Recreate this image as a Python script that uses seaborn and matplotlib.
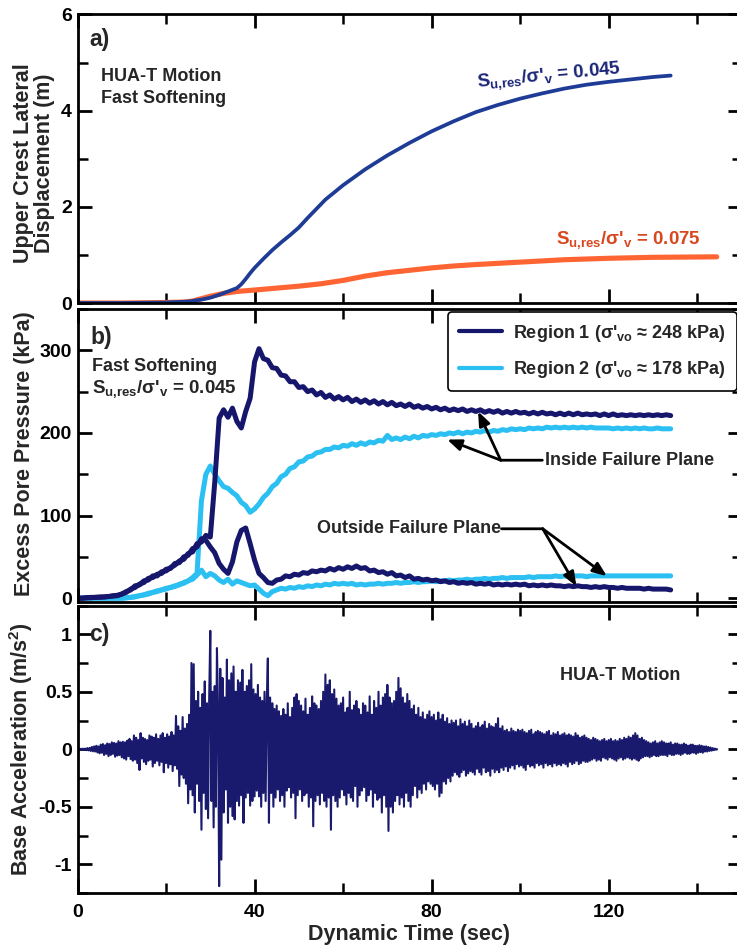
import numpy as np
import matplotlib
matplotlib.use("Agg")
import matplotlib.pyplot as plt
import seaborn as sns
from matplotlib.ticker import MultipleLocator, FuncFormatter
from matplotlib.lines import Line2D

# ---------------------------------------------------------------- data
# (a) upper crest lateral displacement (m)
disp_time_045 = [0, 10, 20, 25, 28, 30, 32, 34, 36, 37, 38, 39, 40, 42, 44, 46, 48, 50,
                 52, 54, 56, 60, 65, 70, 75, 80, 85, 90, 95, 100, 105, 110, 115, 120,
                 125, 130, 134]
disp_045 = [0, 0, 0.01, 0.03, 0.07, 0.11, 0.17, 0.24, 0.31, 0.39, 0.5, 0.62, 0.73, 0.92,
            1.1, 1.26, 1.41, 1.57, 1.77, 1.96, 2.15, 2.45, 2.78, 3.07, 3.33, 3.57, 3.78,
            3.97, 4.12, 4.25, 4.36, 4.46, 4.54, 4.6, 4.65, 4.7, 4.73]

disp_time_075 = [0, 10, 20, 24, 26, 28, 30, 33, 36, 40, 45, 50, 55, 60, 65, 70, 75, 80,
                 85, 90, 100, 110, 120, 130, 144.4]
disp_075 = [0, 0, 0.01, 0.02, 0.04, 0.09, 0.14, 0.2, 0.24, 0.27, 0.31, 0.35, 0.4, 0.47,
            0.56, 0.63, 0.68, 0.73, 0.77, 0.8, 0.85, 0.9, 0.93, 0.95, 0.96]

# (b) excess pore pressure (kPa), one sample per second from 0 to 134 s
region1_inside = [
    0, 0, 0.5, 0.5, 1, 1, 1.5, 2, 2.5, 3,
    5, 8, 10, 15, 16, 21, 22, 27, 27, 32,
    33, 37, 40, 45, 47, 54, 56, 66, 68, 76,
    74, 140, 218, 228, 219, 230, 214, 206, 226, 242,
    286, 302, 290, 288, 279, 278, 270, 269, 262, 262,
    255, 256, 250, 252, 246, 249, 243, 246, 241, 244,
    240, 243, 238, 241, 237, 240, 236, 239, 235, 238,
    234, 237, 233, 235, 232, 235, 231, 233, 230, 232,
    229, 231, 228, 230, 227, 229, 227, 229, 226, 228,
    226, 228, 225, 227, 225, 227, 224, 226, 224, 226,
    224, 225, 223, 225, 223, 225, 223, 224, 222, 224,
    222, 224, 222, 224, 222, 223, 222, 223, 221, 223,
    221, 223, 221, 222, 221, 222, 221, 222, 221, 222,
    221, 222, 221, 222, 221]
region1_outside = [
    0, 0, 0.5, 1, 1, 1.5, 1.5, 2, 3, 3.5,
    5, 7, 11, 13, 17, 19, 24, 25, 29, 30,
    35, 36, 42, 43, 50, 52, 60, 62, 72, 70,
    62, 55, 42, 35, 30, 44, 68, 82, 85, 66,
    46, 30, 25, 19, 18, 22, 23, 27, 26, 29,
    28, 31, 30, 33, 32, 34, 33, 36, 34, 37,
    35, 38, 36, 39, 36, 37, 33, 34, 31, 32,
    29, 31, 27, 28, 25, 27, 23, 24, 22, 23,
    21, 22, 20, 21, 19, 20, 18, 19, 18, 19,
    17, 18, 17, 18, 16, 17, 16, 17, 16, 17,
    16, 17, 15, 16, 15, 16, 15, 16, 15, 15,
    14, 15, 14, 15, 14, 14, 13, 14, 13, 14,
    13, 13, 12, 13, 12, 12, 12, 12, 11, 12,
    11, 11, 11, 11, 10]
region2_inside = [
    0, 0, 0, 0, 0, 0, 0, 0, 0, 0,
    0, 0.5, 1, 2, 3, 4, 6, 7, 9, 10,
    12, 13, 15, 16, 19, 21, 25, 30, 118, 150,
    160, 150, 142, 135, 133, 128, 124, 116, 112, 104,
    108, 114, 122, 127, 135, 139, 147, 150, 157, 159,
    165, 166, 171, 172, 176, 177, 180, 180, 183, 182,
    185, 184, 187, 185, 188, 186, 189, 188, 191, 190,
    197, 192, 194, 192, 195, 193, 196, 194, 197, 196,
    198, 197, 199, 198, 200, 199, 201, 199, 201, 200,
    202, 201, 203, 201, 203, 202, 204, 203, 205, 204,
    205, 204, 206, 205, 206, 205, 207, 206, 207, 206,
    207, 206, 207, 206, 207, 206, 207, 206, 206, 206,
    206, 205, 206, 205, 206, 205, 206, 205, 206, 205,
    205, 206, 205, 205, 205]
region2_outside = [
    0, 0, 0, 0, 0, 0, 0, 0, 0, 0,
    0, 0.5, 1, 1.5, 3, 4, 5, 7, 8, 10,
    11, 13, 14, 17, 18, 21, 23, 28, 34, 26,
    30, 27, 22, 19, 23, 17, 21, 19, 17, 15,
    16, 11, 6, 3, 8, 10, 12, 11, 13, 12,
    14, 13, 15, 14, 16, 15, 17, 16, 18, 17,
    18, 17, 18, 16, 17, 16, 17, 17, 18, 17,
    18, 18, 19, 18, 19, 19, 20, 19, 20, 20,
    21, 20, 21, 21, 22, 21, 22, 22, 23, 22,
    23, 23, 24, 23, 24, 24, 25, 24, 25, 25,
    25, 25, 26, 25, 26, 26, 26, 26, 27, 26,
    27, 26, 27, 27, 27, 26, 27, 27, 27, 27,
    27, 27, 27, 27, 27, 27, 27, 27, 27, 27,
    27, 27, 27, 27, 27]
pore_dt = 1.0

# (c) base acceleration (m/s^2), sampled every 0.25 s from 0 to 144.5 s
base_acc = [
    0, 0.002, -0.003, 0.004, -0.004, 0.005, -0.006, 0.006, -0.008, 0.01,
    -0.01, 0.012, -0.015, 0.02, -0.018, 0.025, -0.02, 0.03, -0.028, 0.025,
    -0.035, 0.04, -0.03, 0.045, -0.05, 0.035, -0.04, 0.05, -0.06, 0.045,
    -0.05, 0.06, -0.04, 0.055, -0.065, 0.05, -0.055, 0.07, -0.05, 0.06,
    -0.07, 0.065, -0.08, 0.06, -0.09, 0.075, -0.06, 0.09, -0.085, 0.07,
    -0.1, 0.12, -0.09, 0.1, -0.12, 0.08, -0.18, 0.14, -0.08, 0.1,
    -0.11, 0.09, -0.13, 0.08, -0.1, 0.12, -0.09, 0.11, -0.15, 0.1,
    -0.12, 0.13, -0.1, 0.09, -0.14, 0.12, -0.11, 0.14, -0.2, 0.1,
    -0.12, 0.13, -0.16, 0.11, -0.13, 0.15, -0.19, 0.12, -0.14, 0.29,
    -0.17, 0.2, -0.32, 0.16, -0.22, 0.28, -0.25, 0.18, -0.3, 0.22,
    -0.47, 0.3, -0.35, 0.75, -0.4, 0.74, -0.55, 0.42, -0.3, 0.5,
    -0.45, 0.36, -0.7, 0.48, -0.38, 0.59, -0.52, 0.4, -0.6, 0.45,
    1.03, -0.45, 0.5, -0.68, 0.55, -0.5, 0.88, 0.35, -1.19, 0.7,
    -0.96, 0.62, -0.55, 0.45, -0.35, 0.78, -0.64, 0.6, -0.5, 0.66,
    -0.58, 0.72, -0.61, 0.5, -0.45, 0.6, -0.49, 0.58, -0.4, 0.69,
    -0.64, 0.5, -0.42, 0.55, -0.38, 0.6, -0.49, 0.74, -0.45, 0.52,
    -0.41, 0.48, -0.36, 0.56, -0.41, 0.45, -0.5, 0.42, -0.38, 0.5,
    -0.45, 0.4, 0.79, -0.64, 0.45, -0.38, 0.4, -0.5, 0.35, -0.42,
    0.38, -0.35, 0.33, -0.45, 0.29, -0.4, 0.35, -0.5, 0.3, -0.36,
    0.4, -0.33, 0.28, -0.42, 0.36, -0.38, 0.45, -0.6, 0.48, -0.4,
    0.42, -0.35, 0.38, -0.45, 0.33, -0.4, 0.44, -0.38, 0.3, -0.5,
    0.36, -0.42, 0.46, -0.67, 0.4, -0.45, 0.38, -0.4, 0.35, -0.48,
    0.42, -0.38, 0.5, -0.45, 0.65, -0.5, 0.56, -0.42, 0.6, -0.7,
    0.48, -0.4, 0.52, -0.45, 0.44, -0.5, 0.38, -0.42, 0.4, -0.35,
    0.45, -0.4, 0.32, -0.48, 0.36, -0.38, 0.5, -0.42, 0.34, -0.45,
    0.38, -0.32, 0.42, -0.5, 0.35, -0.4, 0.3, -0.36, 0.4, -0.33,
    0.38, -0.45, 0.32, -0.4, 0.46, -0.35, 0.3, -0.5, 0.42, -0.38,
    0.36, -0.44, 0.5, -0.42, 0.38, -0.55, 0.45, -0.4, 0.48, -0.5,
    0.56, -0.71, 0.45, -0.5, 0.4, -0.55, 0.42, -0.45, 0.5, -0.4,
    0.62, -0.48, 0.53, -0.42, 0.45, -0.5, 0.4, -0.38, 0.48, -0.45,
    0.42, -0.5, 0.35, -0.4, 0.38, -0.32, 0.3, -0.42, 0.36, -0.35,
    0.28, -0.38, 0.32, -0.3, 0.26, -0.35, 0.3, -0.28, 0.33, -0.3,
    0.28, -0.32, 0.3, -0.35, 0.25, -0.3, 0.32, -0.41, 0.26, -0.38,
    0.3, -0.28, 0.24, -0.3, 0.27, -0.25, 0.22, -0.28, 0.25, -0.23,
    0.23, -0.2, 0.25, -0.22, 0.2, -0.24, 0.26, -0.2, 0.22, -0.18,
    0.24, -0.23, 0.2, -0.21, 0.25, -0.19, 0.22, -0.2, 0.18, -0.22,
    0.2, -0.17, 0.23, -0.2, 0.19, -0.22, 0.21, -0.16, 0.24, -0.2,
    0.18, -0.19, 0.22, -0.23, 0.2, -0.17, 0.19, -0.2, 0.22, -0.18,
    0.27, -0.2, 0.18, -0.16, 0.2, -0.18, 0.16, -0.15, 0.17, -0.19,
    0.15, -0.16, 0.18, -0.14, 0.16, -0.17, 0.15, -0.13, 0.17, -0.15,
    0.16, -0.14, 0.17, -0.16, 0.15, -0.18, 0.14, -0.13, 0.16, -0.15,
    0.17, -0.14, 0.13, -0.16, 0.15, -0.12, 0.16, -0.14, 0.15, -0.13,
    0.14, -0.16, 0.13, -0.12, 0.15, -0.14, 0.16, -0.13, 0.12, -0.15,
    0.14, -0.12, 0.13, -0.14, 0.15, -0.13, 0.12, -0.14, 0.13, -0.12,
    0.14, -0.13, 0.12, -0.15, 0.13, -0.11, 0.12, -0.13, 0.11, -0.12,
    0.14, -0.1, 0.12, -0.13, 0.1, -0.12, 0.11, -0.1, 0.12, -0.11,
    0.1, -0.11, 0.09, -0.1, 0.08, -0.09, 0.1, -0.08, 0.09, -0.1,
    0.08, -0.09, 0.07, -0.1, 0.08, -0.07, 0.09, -0.08, 0.07, -0.09,
    0.08, -0.07, 0.09, -0.08, 0.07, -0.09, 0.08, -0.1, 0.07, -0.08,
    0.09, -0.07, 0.08, -0.09, 0.1, -0.08, 0.09, -0.07, 0.11, -0.08,
    0.1, -0.09, 0.12, -0.08, 0.14, -0.09, 0.12, -0.1, 0.09, -0.08,
    0.1, -0.07, 0.08, -0.06, 0.07, -0.06, 0.06, -0.07, 0.05, -0.06,
    0.06, -0.05, 0.07, -0.06, 0.05, -0.06, 0.06, -0.05, 0.07, -0.05,
    0.06, -0.05, 0.05, -0.06, 0.05, -0.04, 0.06, -0.05, 0.04, -0.05,
    0.05, -0.04, 0.05, -0.04, 0.04, -0.05, 0.04, -0.04, 0.05, -0.03,
    0.04, -0.04, 0.03, -0.04, 0.04, -0.03, 0.04, -0.03, 0.03, -0.04,
    0.03, -0.03, 0.035, -0.025, 0.03, -0.03, 0.025, -0.02, 0.025, -0.02,
    0.02, -0.015, 0.015, -0.012, 0.01, -0.008, 0.006, -0.004, 0.0]
acc_dt = 0.25

x_ticks_major = 40
x_ticks_minor = 20

# ---------------------------------------------------------------- style
sns.set_theme(style="ticks")
plt.rcParams.update({
    "font.family": ["Liberation Sans", "DejaVu Sans"],
    "font.weight": "bold",
    "axes.labelweight": "bold",
    "axes.unicode_minus": False,
    "mathtext.fontset": "custom",
    "mathtext.rm": "Liberation Sans:bold",
    "mathtext.it": "Liberation Sans:bold",
    "mathtext.bf": "Liberation Sans:bold",
    "mathtext.sf": "Liberation Sans:bold",
})

C_BLUE = "#1e3c96"
C_ORANGE = "#ff6433"
C_DARK = "#16166c"
C_LIGHT = "#2cc0f2"
C_ACC = "#19196e"
C_LBL_BLUE = "#1b2578"
C_LBL_ORANGE = "#d8471e"

SU_045 = "S$_{u{,}res}$/σ'$_{v}$ = 0.045"
SU_075 = "S$_{u{,}res}$/σ'$_{v}$ = 0.075"

W, H = 737, 949
fig = plt.figure(figsize=(W / 100, H / 100), dpi=100)


def add_panel(left, top, right, bottom):
    return fig.add_axes([left / W, 1 - bottom / H, (right - left) / W, (bottom - top) / H])


ax_a = add_panel(77.5, 14.5, 741.5, 303)
ax_b = add_panel(77.5, 309, 741.5, 601.5)
ax_c = add_panel(77.5, 605.5, 741.5, 893)

# ---------------------------------------------------------------- panel a
sns.lineplot(x=disp_time_075, y=disp_075, color=C_ORANGE, linewidth=3.7, ax=ax_a)
sns.lineplot(x=disp_time_045, y=disp_045, color=C_BLUE, linewidth=2.7, ax=ax_a)
ax_a.set_ylim(0, 6)
ax_a.yaxis.set_major_locator(MultipleLocator(2))
ax_a.yaxis.set_minor_locator(MultipleLocator(1))

ax_a.text(2.7, 5.48, "a)", fontsize=16.5, fontweight="bold", va="center")
ax_a.text(5.2, 4.71, "HUA-T Motion", fontsize=13, fontweight="bold", va="center")
ax_a.text(5.2, 4.26, "Fast Softening", fontsize=13, fontweight="bold", va="center")
ax_a.text(106.4, 4.71, SU_045, fontsize=13.5, fontweight="bold",
          color=C_LBL_BLUE, ha="center", va="center", rotation=5.5)
ax_a.text(124.5, 1.31, SU_075, fontsize=13.5, fontweight="bold",
          color=C_LBL_ORANGE, ha="center", va="center")

# ---------------------------------------------------------------- panel b
pore_time = np.arange(len(region1_inside)) * pore_dt
for series, col in [(region2_outside, C_LIGHT), (region2_inside, C_LIGHT),
                    (region1_outside, C_DARK), (region1_inside, C_DARK)]:
    sns.lineplot(x=pore_time, y=series, color=col, linewidth=3.6, ax=ax_b)
ax_b.set_ylim(-4, 350)
ax_b.yaxis.set_major_locator(MultipleLocator(100))
ax_b.yaxis.set_minor_locator(MultipleLocator(50))

handles = [Line2D([], [], color=C_DARK, lw=3.0), Line2D([], [], color=C_LIGHT, lw=3.0)]
labels = ["Region 1 (σ'$_{vo}$ ≈ 248 kPa)", "Region 2 (σ'$_{vo}$ ≈ 178 kPa)"]
leg = ax_b.legend(handles, labels, loc="upper right", bbox_to_anchor=(0.993, 0.99),
                  borderaxespad=0, fontsize=13, handlelength=2.4, handletextpad=0.6,
                  frameon=True, fancybox=True, edgecolor="black", framealpha=1,
                  labelspacing=0.85, borderpad=0.6)
leg.get_frame().set_linewidth(1.2)
for t in leg.get_texts():
    t.set_fontweight("bold")

ax_b.text(2.9, 316, "b)", fontsize=16.5, fontweight="bold", va="center")
ax_b.text(3.3, 280, "Fast Softening", fontsize=13, fontweight="bold", va="center")
ax_b.text(3.3, 253, SU_045, fontsize=13.5, fontweight="bold", va="center")

line_kw = dict(arrowstyle="-", color="black", lw=2, shrinkA=0, shrinkB=0)
arrow_kw = dict(arrowstyle="-|>,head_length=0.7,head_width=0.28", color="black", lw=2,
                shrinkA=0, shrinkB=0)

ax_b.text(105.6, 167, "Inside Failure Plane", fontsize=13, fontweight="bold", va="center")
ax_b.annotate("", xy=(105.0, 167), xytext=(95.6, 167), arrowprops=line_kw)
ax_b.annotate("", xy=(90.5, 226), xytext=(95.6, 167), arrowprops=arrow_kw)
ax_b.annotate("", xy=(83.5, 192), xytext=(95.6, 167), arrowprops=arrow_kw)

ax_b.text(95.7, 84, "Outside Failure Plane", fontsize=13, fontweight="bold", va="center",
          ha="right")
ax_b.annotate("", xy=(105.1, 84), xytext=(95.8, 84), arrowprops=line_kw)
ax_b.annotate("", xy=(112.7, 14.5), xytext=(105.1, 84), arrowprops=arrow_kw)
ax_b.annotate("", xy=(119.6, 26.7), xytext=(105.1, 84), arrowprops=arrow_kw)

# ---------------------------------------------------------------- panel c
acc_time = np.arange(len(base_acc)) * acc_dt
sns.lineplot(x=acc_time, y=base_acc, color=C_ACC, linewidth=1.5, ax=ax_c)
ax_c.set_ylim(-1.25, 1.25)
ax_c.yaxis.set_major_locator(MultipleLocator(0.5))
ax_c.yaxis.set_minor_locator(MultipleLocator(0.25))
ax_c.yaxis.set_major_formatter(FuncFormatter(lambda v, p: f"{v:g}"))
ax_c.text(2.7, 1.0, "c)", fontsize=16.5, fontweight="bold", va="center")
ax_c.text(108.9, 0.64, "HUA-T Motion", fontsize=13, fontweight="bold", va="center")

# ---------------------------------------------------------------- common axes styling
for ax in (ax_a, ax_b, ax_c):
    ax.set_xlim(0, 150)
    ax.xaxis.set_major_locator(MultipleLocator(x_ticks_major))
    ax.xaxis.set_minor_locator(MultipleLocator(x_ticks_minor))
    ax.tick_params(which="both", direction="in", top=True, right=True, colors="black")
    ax.tick_params(which="major", length=10, width=2.0, labelsize=14, pad=4)
    ax.tick_params(which="minor", length=7, width=1.8)
    ax.tick_params(axis="x", which="major", pad=8)
    for sp in ax.spines.values():
        sp.set_linewidth(2.0)
        sp.set_color("black")
        sp.set_visible(True)
    for lab in ax.get_xticklabels() + ax.get_yticklabels():
        lab.set_fontweight("bold")
    ax.set_xlabel("")

ax_a.tick_params(axis="x", labelbottom=False)
ax_b.tick_params(axis="x", labelbottom=False)

# y-label coordinates give the right-hand edge of the rotated text block
ax_a.set_ylabel("Upper Crest Lateral\nDisplacement (m)", fontsize=15.5, fontweight="bold",
                linespacing=1.0)
ax_a.yaxis.set_label_coords(-0.034, 0.485)
ax_b.set_ylabel("Excess Pore Pressure (kPa)", fontsize=15.5, fontweight="bold")
ax_b.yaxis.set_label_coords(-0.064, 0.505)
ax_c.set_ylabel("Base Acceleration (m/s$^{2}$)", fontsize=15.5, fontweight="bold")
ax_c.yaxis.set_label_coords(-0.064, 0.5)
ax_c.set_xlabel("Dynamic Time (sec)", fontsize=15.5, fontweight="bold")
ax_c.xaxis.label.set_va("center")
ax_c.xaxis.set_label_coords(0.5, -0.146)

fig.savefig("out.png", dpi=100)
